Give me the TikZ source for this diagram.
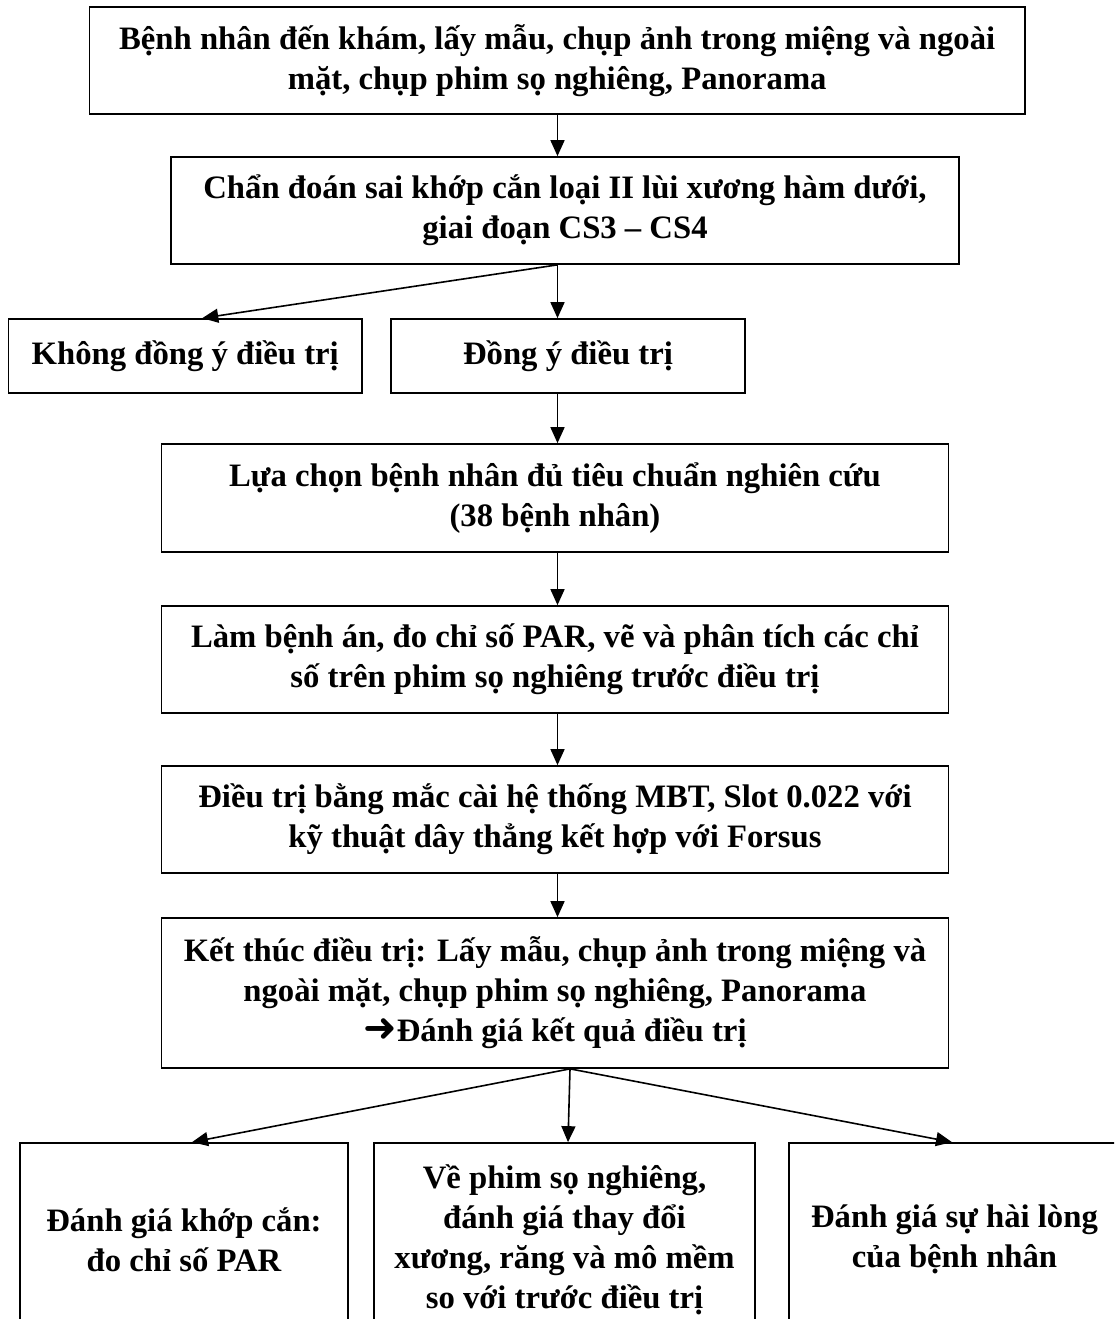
\documentclass[tikz,border=0pt]{standalone}
\usepackage{fontspec}
\setmainfont{Liberation Serif}
\newfontfamily\arrowfont{DejaVu Sans}
\usetikzlibrary{arrows.meta,calc}
\begin{document}
\begin{tikzpicture}[x=1pt,y=-1pt,
  txt/.style={font=\fontsize{32.7}{40}\selectfont\bfseries},
  box/.style={draw, line width=1.7pt, align=center, inner sep=0pt, txt},
  arr/.style={-{Triangle[length=16pt,width=14pt]}, line width=1.6pt}]
\useasboundingbox (0,0) rectangle (1114,1319);
\clip (0,0) rectangle (1114,1319);
\node[box, minimum width=935.5pt, minimum height=107pt] (b1) at (557.25,60.5)
  {Bệnh nhân đến khám, lấy mẫu, chụp ảnh trong miệng và ngoài\\mặt, chụp phim sọ nghiêng, Panorama};
\node[box, minimum width=788pt, minimum height=107pt] (b2) at (565,210.5)
  {Chẩn đoán sai khớp cắn loại II lùi xương hàm dưới,\\giai đoạn CS3 – CS4};
\node[box, minimum width=353.5pt, minimum height=74pt] (khong) at (185.25,356)
  {Không đồng ý điều trị};
\node[box, minimum width=354pt, minimum height=74pt] (dong) at (568,356)
  {Đồng ý điều trị};
\node[box, minimum width=787pt, minimum height=108pt] (b3) at (555,498)
  {Lựa chọn bệnh nhân đủ tiêu chuẩn nghiên cứu\\(38 bệnh nhân)};
\node[box, minimum width=787pt, minimum height=107pt] (b4) at (555,659.5)
  {Làm bệnh án, đo chỉ số PAR, vẽ và phân tích các chỉ\\số trên phim sọ nghiêng trước điều trị};
\node[box, minimum width=787pt, minimum height=107pt] (b5) at (555,819.5)
  {Điều trị bằng mắc cài hệ thống MBT, Slot 0.022 với\\kỹ thuật dây thẳng kết hợp với Forsus};
\node[box, minimum width=787pt, minimum height=150pt] (b6) at (555,993)
  {Kết thúc điều trị: Lấy mẫu, chụp ảnh trong miệng và\\ngoài mặt, chụp phim sọ nghiêng, Panorama\\{\arrowfont\fontsize{40}{40}\selectfont\bfseries ➜}Đánh giá kết quả điều trị};
\node[box, minimum width=328pt, minimum height=193pt] (e1) at (184,1239.5)
  {Đánh giá khớp cắn:\\đo chỉ số PAR};
\node[box, minimum width=381pt, minimum height=193pt] (e2) at (564.5,1239.5)
  {Về phim sọ nghiêng,\\đánh giá thay đổi\\xương, răng và mô mềm\\so với trước điều trị};
\node[box, minimum width=331pt, minimum height=193pt] (e3) at (954.5,1239.5)
  {Đánh giá sự hài lòng\\của bệnh nhân};
\coordinate (s1) at (557.5,0);
\draw[arr] (s1 |- b1.south) -- (s1 |- b2.north);
\coordinate (s2) at (s1 |- b2.south);
\draw[arr] (s2) -- ([xshift=17pt]khong.north);
\draw[arr] (s2) -- (s2 |- dong.north);
\draw[arr] (s1 |- dong.south) -- (s1 |- b3.north);
\draw[arr] (s1 |- b3.south) -- (s1 |- b4.north);
\draw[arr] (s1 |- b4.south) -- (s1 |- b5.north);
\draw[arr] (s1 |- b5.south) -- (s1 |- b6.north);
\coordinate (s6) at ([xshift=15pt]b6.south);
\draw[arr] (s6) -- ([xshift=8pt]e1.north);
\draw[arr] (s6) -- ([xshift=3.5pt]e2.north);
\draw[arr] (s6) -- ([xshift=-2.5pt]e3.north);
\end{tikzpicture}
\end{document}
